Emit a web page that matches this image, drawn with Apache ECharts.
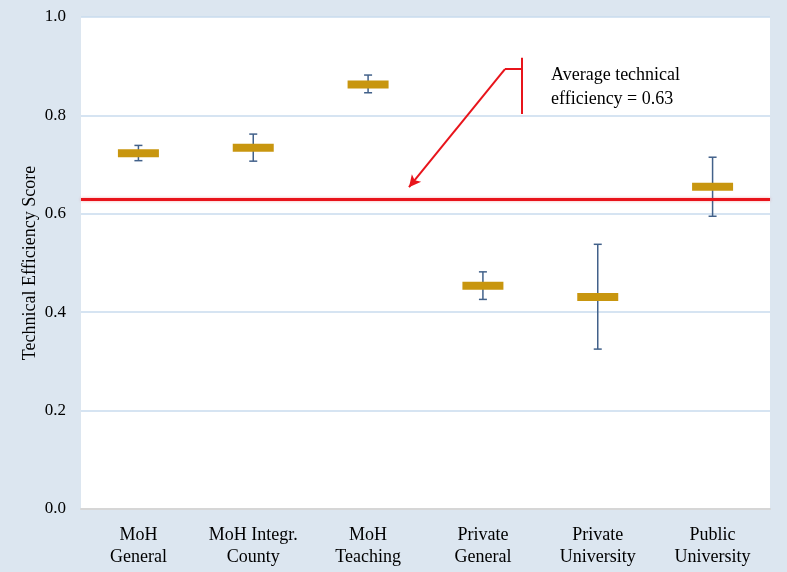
<!DOCTYPE html>
<html><head><meta charset="utf-8">
<script src="https://cdn.jsdelivr.net/npm/echarts@6/dist/echarts.min.js"></script>
<style>html,body{margin:0;padding:0;background:#dce6f0;}#c{width:787px;height:572px;}</style>
</head><body><div id="c"></div>
<script>
const categories = ['MoH\nGeneral', 'MoH Integr.\nCounty', 'MoH\nTeaching', 'Private\nGeneral', 'Private\nUniversity', 'Public\nUniversity'];
const means = [0.723, 0.734, 0.863, 0.454, 0.431, 0.655];
const lower = [0.708, 0.707, 0.846, 0.426, 0.325, 0.595];
const upper = [0.739, 0.762, 0.882, 0.482, 0.538, 0.715];
const average = 0.634;
const yTicks = [0, 0.2, 0.4, 0.6, 0.8, 1.0];
const annotationText = 'Average technical\nefficiency = 0.63';
// annotation geometry in data units (x on a 0..6 helper axis)
const bracketTop = [3.838, 0.917], bracketBottom = [3.838, 0.803];
const bracketJoin = [3.692, 0.894];
const arrowTip = [2.856, 0.654];

const serif = '"Liberation Serif","Times New Roman",serif';
const chart = echarts.init(document.getElementById('c'));
const errData = categories.map((c, i) => [i, lower[i], upper[i]]);
const meanData = categories.map((c, i) => [i, means[i]]);
chart.setOption({
  backgroundColor: '#dce6f0',
  animation: false,
  grid: { left: 81, right: 17, top: 17, bottom: 63, show: true, backgroundColor: '#ffffff', borderWidth: 0 },
  xAxis: [
    { type: 'category', data: categories, boundaryGap: true,
      axisTick: { show: false },
      axisLine: { lineStyle: { color: '#d6d6d6', width: 2 } },
      axisLabel: { fontFamily: serif, fontSize: 18, color: '#000', lineHeight: 22, margin: 15, interval: 0 } },
    { type: 'value', min: 0, max: 6, show: false }
  ],
  yAxis: {
    type: 'value', min: yTicks[0], max: yTicks[yTicks.length - 1], interval: 0.2,
    name: 'Technical Efficiency Score', nameLocation: 'middle', nameRotate: 90, nameGap: 42,
    nameMoveOverlap: false,
    nameTextStyle: { fontFamily: serif, fontSize: 18, color: '#000' },
    axisLine: { show: false }, axisTick: { show: false },
    axisLabel: { fontFamily: serif, fontSize: 17, color: '#000', margin: 15, padding: [3, 0, 0, 0], formatter: v => v.toFixed(1) },
    splitLine: { lineStyle: { color: '#c9dbee', width: 1.5 } }
  },
  graphic: [
    { type: 'text', left: 551, top: 63, z: 100,
      style: { text: annotationText, fontFamily: serif, fontSize: 18, lineHeight: 24, fill: '#000' } }
  ],
  series: [
    { type: 'line', xAxisIndex: 1, data: [], z: 3,
      markLine: {
        silent: true, symbol: ['none', 'none'], animation: false,
        label: { show: false },
        lineStyle: { color: '#e8141b', type: 'solid', width: 2 },
        data: [
          { yAxis: average, lineStyle: { width: 3, color: '#e8141b', shadowColor: 'rgba(232,20,27,0.35)', shadowBlur: 3 } },
          [{ coord: bracketTop }, { coord: bracketBottom }],
          [{ coord: bracketJoin }, { coord: [bracketTop[0], bracketJoin[1]] }],
          [{ coord: bracketJoin, symbol: 'none' }, { coord: arrowTip, symbol: 'arrow', symbolSize: [9, 12] }]
        ]
      }
    },
    { type: 'custom', xAxisIndex: 0, data: errData, z: 4,
      renderItem: (params, api) => {
        const x = api.value(0);
        const lo = api.coord([x, api.value(1)]);
        const hi = api.coord([x, api.value(2)]);
        const cap = 4;
        const st = { stroke: '#42618a', lineWidth: 1.5 };
        return { type: 'group', children: [
          { type: 'line', shape: { x1: lo[0], y1: lo[1], x2: hi[0], y2: hi[1] }, style: st },
          { type: 'line', shape: { x1: lo[0] - cap, y1: lo[1], x2: lo[0] + cap, y2: lo[1] }, style: st },
          { type: 'line', shape: { x1: hi[0] - cap, y1: hi[1], x2: hi[0] + cap, y2: hi[1] }, style: st }
        ]};
      }
    },
    { type: 'custom', xAxisIndex: 0, data: meanData, z: 5,
      renderItem: (params, api) => {
        const p = api.coord([api.value(0), api.value(1)]);
        const w = api.size([1, 0])[0] * 0.357;
        const h = 8;
        return { type: 'rect', shape: { x: p[0] - w / 2, y: p[1] - h / 2, width: w, height: h },
          style: { fill: '#c8960f' } };
      }
    }
  ]
});
</script></body></html>
